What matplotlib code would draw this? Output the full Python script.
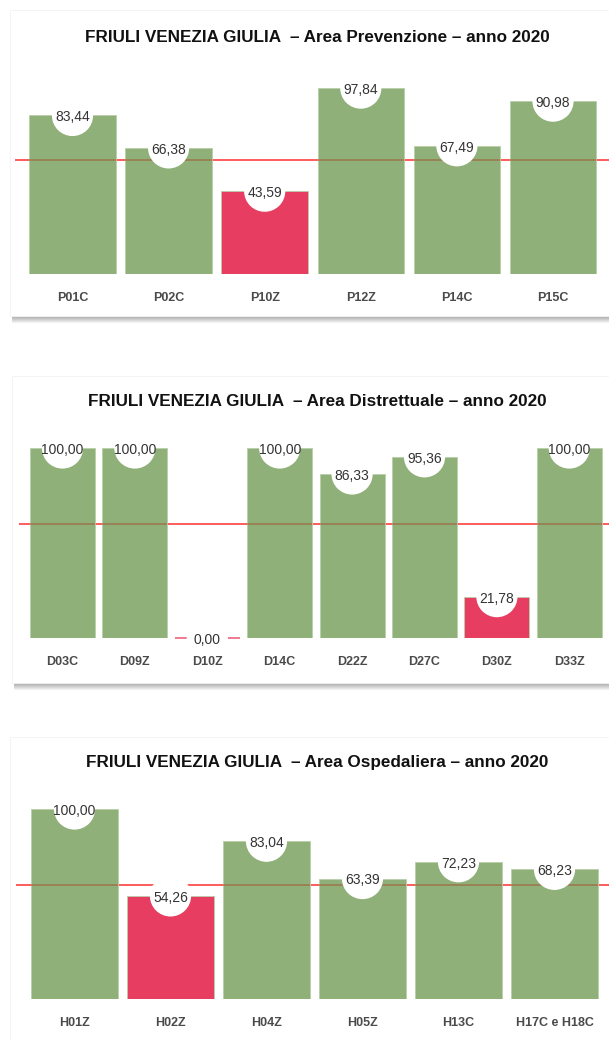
import matplotlib.pyplot as plt
from matplotlib.patches import Rectangle

plt.rcParams['font.family'] = ['Liberation Sans', 'DejaVu Sans']

# --- dati ---
prev_labels = ["P01C", "P02C", "P10Z", "P12Z", "P14C", "P15C"]
prev_values = [83.44, 66.38, 43.59, 97.84, 67.49, 90.98]

distr_labels = ["D03C", "D09Z", "D10Z", "D14C", "D22Z", "D27C", "D30Z", "D33Z"]
distr_values = [100.00, 100.00, 0.00, 100.00, 86.33, 95.36, 21.78, 100.00]

osp_labels = ["H01Z", "H02Z", "H04Z", "H05Z", "H13C", "H17C e H18C"]
osp_values = [100.00, 54.26, 83.04, 63.39, 72.23, 68.23]

titles = ["FRIULI VENEZIA GIULIA  \u2013 Area Prevenzione \u2013 anno 2020",
          "FRIULI VENEZIA GIULIA  \u2013 Area Distrettuale \u2013 anno 2020",
          "FRIULI VENEZIA GIULIA  \u2013 Area Ospedaliera \u2013 anno 2020"]
soglia = 60

GREEN = "#8fb078"
RED = "#e63d60"
W, H = 609, 1041

fig = plt.figure(figsize=(W / 100, H / 100), dpi=100)
fig.patch.set_facecolor("white")


def fx(px):
    return px / W


def fy(py):
    return 1 - py / H


def card(x0, y0, x1, y1):
    # ombra sotto la scheda
    for k in range(1, 8):
        fig.patches.append(Rectangle((fx(x0 + 2), fy(y1 + k)), fx(x1 - x0), (y1 - y0) / H,
                                     transform=fig.transFigure, facecolor="#000000",
                                     alpha=0.05, edgecolor="none", zorder=-3))
    fig.patches.append(Rectangle((fx(x0), fy(y1)), fx(x1 - x0), (y1 - y0) / H,
                                 transform=fig.transFigure, facecolor="white",
                                 edgecolor="#f2f2f2", linewidth=0.6, zorder=-2))


# (valori, etichette, titolo, scheda, base, centro0, passo, sinistra, titolo_y)
panels = [
    (prev_values, prev_labels, titles[0], (10, 10, 640, 316), 274, 72.5, 96.1, 15, 37),
    (distr_values, distr_labels, titles[1], (12, 376, 640, 683), 638, 62.5, 72.4, 19, 402),
    (osp_values, osp_labels, titles[2], (10, 737, 640, 1070), 999, 74.5, 96.0, 16, 762),
]

SCALE = 1.9  # px per unità
BW = 0.9

for vals, labs, title, cbox, base, c0, step, left, ty in panels:
    card(*cbox)
    ymax = 112
    top = base - ymax * SCALE
    ax = fig.add_axes([fx(left), fy(base), fx(W - left), (base - top) / H])
    ax.set_facecolor("none")
    n = len(vals)
    ax.set_xlim((left - c0) / step, (W - c0) / step)
    ax.set_ylim(0, ymax)
    x = list(range(n))
    cols = [RED if v < soglia else GREEN for v in vals]
    ax.axhline(soglia, color="#ff4040", lw=1.2, zorder=1)
    for xi, v, c in zip(x, vals, cols):
        if v == 0:
            ax.bar(xi, v, width=BW, color=c, edgecolor="#f07890", linewidth=1.4,
                   zorder=2, clip_on=False)
        else:
            ax.bar(xi, v, width=BW, color=c, edgecolor="#b8cfa8", linewidth=0.6, zorder=2)
            if v > soglia:
                # la soglia traspare sopra le barre
                ax.hlines(soglia, xi - BW / 2, xi + BW / 2, color="#a83a20",
                          lw=1.2, alpha=0.45, zorder=3)
    ax.scatter(x, vals, s=880, color="white", edgecolors="none", zorder=4, clip_on=False)
    for xi, v in zip(x, vals):
        ax.text(xi, v - 1.0, f"{v:.2f}".replace(".", ","), ha="center", va="center",
                fontsize=10, color="#333333", zorder=5)
    ax.set_xticks(x)
    ax.set_xticklabels(labs, fontsize=9, fontweight="bold", color="#4a4a4a")
    ax.tick_params(length=0, pad=13)
    ax.xaxis.set_zorder(6)
    ax.set_yticks([])
    for s in ax.spines.values():
        s.set_visible(False)
    fig.text(fx(317), fy(ty), title, ha="center", va="center", fontsize=12.3,
             fontweight="bold", color="#111111")

fig.savefig("out.png", dpi=100)
